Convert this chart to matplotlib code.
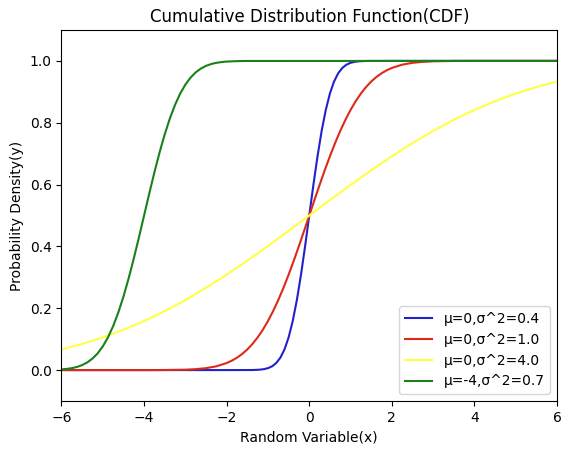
import matplotlib
matplotlib.use("Agg")
import matplotlib.pyplot as plt

# values
blue_x = [-6, -2, -1.4, -1.3, -1.2, -1.1, -1.0, -0.9, -0.8, -0.7, -0.6, -0.5, -0.4, -0.3, -0.2, -0.1, 0,
          0.1, 0.2, 0.3, 0.4, 0.5, 0.6, 0.7, 0.8, 0.9, 1.0, 1.1, 1.2, 1.3, 1.4, 2, 6]
blue_y = [0, 0, 0.0002, 0.0006, 0.0013, 0.0030, 0.0062, 0.0122, 0.0228, 0.0401, 0.0668, 0.1056, 0.1587,
          0.2266, 0.3085, 0.4013, 0.5,
          0.5987, 0.6915, 0.7734, 0.8413, 0.8944, 0.9332, 0.9599, 0.9772, 0.9878, 0.9938, 0.9970, 0.9987,
          0.9994, 0.9998, 1, 1]

red_x = [-6, -4, -3.5, -3, -2.75, -2.5, -2.25, -2, -1.875, -1.75, -1.625, -1.5, -1.375, -1.25, -1.125,
         -1, -0.875, -0.75, -0.625, -0.5, -0.375, -0.25, -0.125, 0,
         0.125, 0.25, 0.375, 0.5, 0.625, 0.75, 0.875, 1, 1.125, 1.25, 1.375, 1.5, 1.625, 1.75, 1.875,
         2, 2.25, 2.5, 2.75, 3, 3.5, 4, 6]
red_y = [0, 0, 0.0002, 0.0013, 0.0030, 0.0062, 0.0122, 0.0228, 0.0304, 0.0401, 0.0521, 0.0668, 0.0846,
         0.1056, 0.1303, 0.1587, 0.1908, 0.2266, 0.2660, 0.3085, 0.3538, 0.4013, 0.4503, 0.5,
         0.5497, 0.5987, 0.6462, 0.6915, 0.7340, 0.7734, 0.8092, 0.8413, 0.8697, 0.8944, 0.9154, 0.9332,
         0.9479, 0.9599, 0.9696, 0.9772, 0.9878, 0.9938, 0.9970, 0.9987, 0.9998, 1, 1]

yellow_x = [-6, -5.5, -5, -4.5, -4, -3.5, -3, -2.5, -2, -1.5, -1, -0.5, 0,
            0.5, 1, 1.5, 2, 2.5, 3, 3.5, 4, 4.5, 5, 5.5, 6]
yellow_y = [0.0668, 0.0846, 0.1056, 0.1303, 0.1587, 0.1908, 0.2266, 0.2660, 0.3085, 0.3538, 0.4013, 0.4503, 0.5,
            0.5497, 0.5987, 0.6462, 0.6915, 0.7340, 0.7734, 0.8092, 0.8413, 0.8697, 0.8944, 0.9154, 0.9332]

green_x = [-6, -5.875, -5.75, -5.625, -5.5, -5.375, -5.25, -5.125, -5, -4.875, -4.75, -4.625, -4.5,
           -4.375, -4.25, -4.125, -4,
           -3.875, -3.75, -3.625, -3.5, -3.375, -3.25, -3.125, -3, -2.875, -2.75, -2.625, -2.5,
           -2.375, -2.25, -2.125, -2, -1.75, -1.5, 6]
green_y = [0.0021, 0.0037, 0.0062, 0.0101, 0.0161, 0.0248, 0.0371, 0.0540, 0.0766, 0.1056, 0.1420,
           0.1860, 0.2375, 0.2961, 0.3605, 0.4291, 0.5,
           0.5709, 0.6395, 0.7039, 0.7625, 0.8140, 0.8580, 0.8944, 0.9234, 0.9460, 0.9629, 0.9752,
           0.9839, 0.9899, 0.9938, 0.9963, 0.9979, 0.9993, 0.9998, 1]

labels = ["μ=0,σ^2=0.4", "μ=0,σ^2=1.0", "μ=0,σ^2=4.0", "μ=-4,σ^2=0.7"]

fig = plt.figure(figsize=(5.71, 4.53), dpi=100)
ax = fig.add_axes([0.1077, 0.1148, 0.8678, 0.819])

ax.plot(blue_x, blue_y, color="#2222cc", lw=1.5, label=labels[0])
ax.plot(red_x, red_y, color="#dd2a18", lw=1.5, label=labels[1])
ax.plot(yellow_x, yellow_y, color="#ffff44", lw=1.5, label=labels[2])
ax.plot(green_x, green_y, color="#1a801a", lw=1.5, label=labels[3])

ax.set_xlim(-6, 6)
ax.set_ylim(-0.1, 1.1)
ax.set_title("Cumulative Distribution Function(CDF)")
ax.set_xlabel("Random Variable(x)")
ax.set_ylabel("Probability Density(y)")
ax.legend(loc="lower right")

fig.savefig("out.png", dpi=100)
